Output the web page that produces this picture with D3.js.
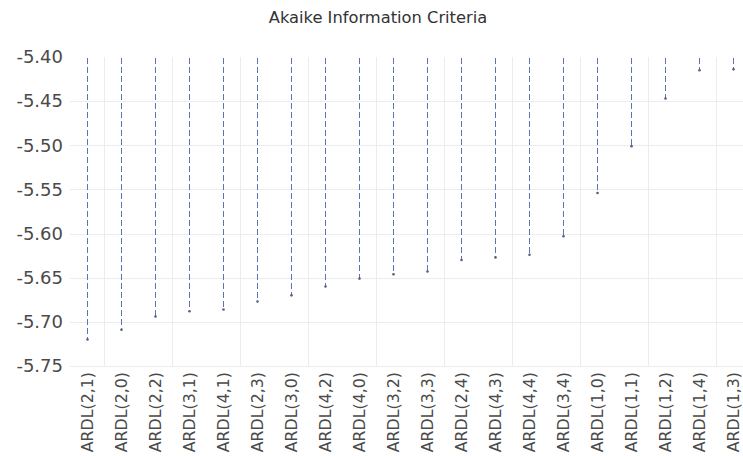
<!DOCTYPE html>
<meta charset="utf-8">
<title>Akaike Information Criteria</title>
<style type="text/css">
body {
  margin: 0;
  background: #fff;
}
svg {
  display: block;
  font-family: "DejaVu Sans", sans-serif;
}
.grid line {
  stroke: #ececec;
  stroke-width: 1;
  shape-rendering: crispEdges;
}
</style>
<script src="https://cdnjs.cloudflare.com/ajax/libs/d3/7.8.5/d3.min.js"></script>
<body>
<script>
var width = 743;
var height = 456;

var models = ["ARDL(2,1)","ARDL(2,0)","ARDL(2,2)","ARDL(3,1)","ARDL(4,1)","ARDL(2,3)","ARDL(3,0)",
              "ARDL(4,2)","ARDL(4,0)","ARDL(3,2)","ARDL(3,3)","ARDL(2,4)","ARDL(4,3)","ARDL(4,4)",
              "ARDL(3,4)","ARDL(1,0)","ARDL(1,1)","ARDL(1,2)","ARDL(1,4)","ARDL(1,3)"];
var aic = [-5.720,-5.709,-5.694,-5.688,-5.686,-5.677,-5.670,
           -5.660,-5.651,-5.646,-5.643,-5.630,-5.627,-5.624,
           -5.603,-5.554,-5.501,-5.447,-5.415,-5.414];
var yTicks = [-5.40,-5.45,-5.50,-5.55,-5.60,-5.65,-5.70,-5.75];

var plotLeft = 70, plotTop = 57, plotBottom = 366;
var plotRight = plotLeft + models.length * 34;   // plot runs past the picture's right edge

var svg = d3.select("body").append("svg")
    .attr("width", width)
    .attr("height", height);

var x = d3.scaleBand().domain(models).range([plotLeft, plotRight]);
var y = d3.scaleLinear().domain([-5.40, -5.75]).range([plotTop, plotBottom]);

// horizontal grid
svg.append("g").attr("class", "grid")
  .selectAll("line")
  .data(yTicks.slice(1))
  .enter().append("line")
  .attr("x1", plotLeft).attr("x2", plotRight)
  .attr("y1", d => Math.round(y(d)) + 0.5)
  .attr("y2", d => Math.round(y(d)) + 0.5);

// vertical grid, every other category boundary
svg.append("g").attr("class", "grid")
  .selectAll("line")
  .data(models.filter((d, i) => i % 2 === 1))
  .enter().append("line")
  .attr("x1", d => Math.round(x(d)) + 0.5)
  .attr("x2", d => Math.round(x(d)) + 0.5)
  .attr("y1", plotTop).attr("y2", plotBottom);

// y axis labels
var yAxis = svg.append("g")
    .attr("transform", `translate(${plotLeft - 7},0)`)
    .call(d3.axisLeft(y).tickValues(yTicks).tickSize(0).tickPadding(0));
yAxis.select(".domain").remove();
yAxis.selectAll("text")
    .attr("font-family", "DejaVu Sans, sans-serif")
    .attr("font-size", "18px")
    .attr("fill", "#4a4a4a")
    .text(d => d3.format(".2f")(d).replace("\u2212", "-"));

// x axis labels, rotated
var xAxis = svg.append("g")
    .attr("transform", `translate(0,${plotBottom})`)
    .call(d3.axisBottom(x).tickSize(0).tickPadding(0));
xAxis.select(".domain").remove();
xAxis.selectAll("text")
    .attr("font-family", "DejaVu Sans, sans-serif")
    .attr("font-size", "15.8px")
    .attr("fill", "#4a4a4a")
    .attr("text-anchor", "end")
    .attr("dy", null)
    .attr("y", 0)
    .attr("transform", "translate(6,6) rotate(-90)");

// dashed spikes
var cx = d => Math.round(x(d.m) + x.bandwidth() / 2) + 0.5;
var data = models.map((m, i) => ({m: m, v: aic[i]}));

svg.append("g").selectAll("line")
  .data(data)
  .enter().append("line")
  .attr("x1", cx).attr("x2", cx)
  .attr("y1", y(-5.40) + 1)
  .attr("y2", d => y(d.v))
  .attr("stroke", "#5d72b8")
  .attr("stroke-width", 1)
  .attr("stroke-dasharray", "6,3");

svg.append("g").selectAll("circle")
  .data(data)
  .enter().append("circle")
  .attr("cx", cx)
  .attr("cy", d => y(d.v))
  .attr("r", 1.3)
  .attr("fill", "#5a6078");

svg.append("text")
    .attr("x", 378)
    .attr("y", 23)
    .attr("text-anchor", "middle")
    .attr("font-size", "16.3px")
    .attr("fill", "#333")
    .text("Akaike Information Criteria");
</script>
</body>
</html>
